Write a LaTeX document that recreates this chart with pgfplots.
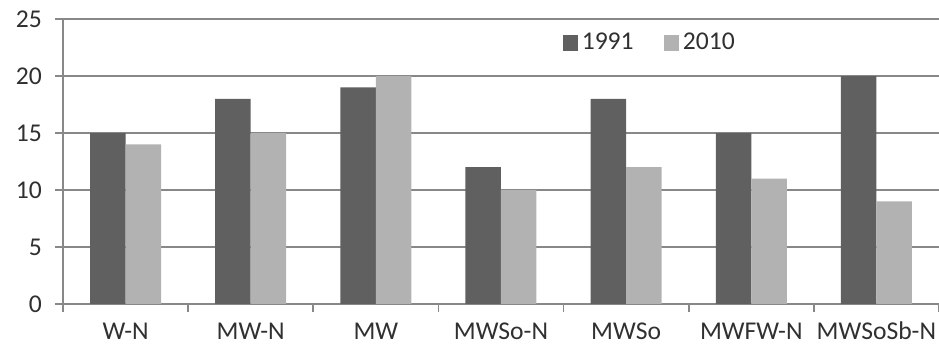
\documentclass[border=0pt]{standalone}
\usepackage{fontspec}
\setmainfont{Carlito}
\usepackage{pgfplots}
\pgfplotsset{compat=1.18}
\definecolor{darkbar}{HTML}{606060}
\definecolor{lightbar}{HTML}{B2B2B2}
\definecolor{axgray}{HTML}{888888}
\definecolor{txt}{HTML}{303030}
\begin{document}
\begin{tikzpicture}
\path[use as bounding box] (-31.5pt,-25pt) rectangle (438pt,152pt);
\begin{axis}[
  at={(0,0)}, anchor=south west,
  scale only axis, width=438pt, height=142.5pt,
  ybar=0pt, bar width=17.75pt,
  xmin=-0.5, xmax=6.5, ymin=0, ymax=25,
  ytick={0,5,10,15,20,25},
  xtick={0,1,2,3,4,5,6},
  xticklabels={W-N,MW-N,MW,MWSo-N,MWSo,MWFW-N,MWSoSb-N},
  minor xtick={-0.5,0.5,1.5,2.5,3.5,4.5,5.5,6.5},
  major x tick style={draw=none},
  minor x tick style={draw=axgray, line width=0.8pt},
  y tick style={draw=axgray, line width=0.8pt},
  tick align=outside, major tick length=4pt, minor tick length=4pt,
  axis x line*=bottom, axis y line*=left,
  axis line style={draw=axgray, line width=0.8pt, -},
  ymajorgrids, grid style={draw=axgray, line width=0.8pt},
  /pgf/number format/assume math mode=true,
  tick label style={font=\fontsize{12.8}{14}\selectfont, text=txt},
  yticklabel style={xshift=-3pt},
  xticklabel style={yshift=-4pt, anchor=north, text height=0.64em, text depth=0.15em},
  legend style={at={(0.563,0.916)}, anchor=west, draw=none, fill=none,
    font=\fontsize{12.8}{14}\selectfont, text=txt, legend columns=2,
    /tikz/every even column/.append style={column sep=13pt}},
  legend image code/.code={\fill[#1,draw=none] (0pt,-3.8pt) rectangle (7.6pt,3.8pt);},
]
\addplot[fill=darkbar, draw=none] coordinates {(0,15) (1,18) (2,19) (3,12) (4,18) (5,15) (6,20)};
\addplot[fill=lightbar, draw=none] coordinates {(0,14) (1,15) (2,20) (3,10) (4,12) (5,11) (6,9)};
\legend{1991,2010}
\end{axis}
\end{tikzpicture}
\end{document}
